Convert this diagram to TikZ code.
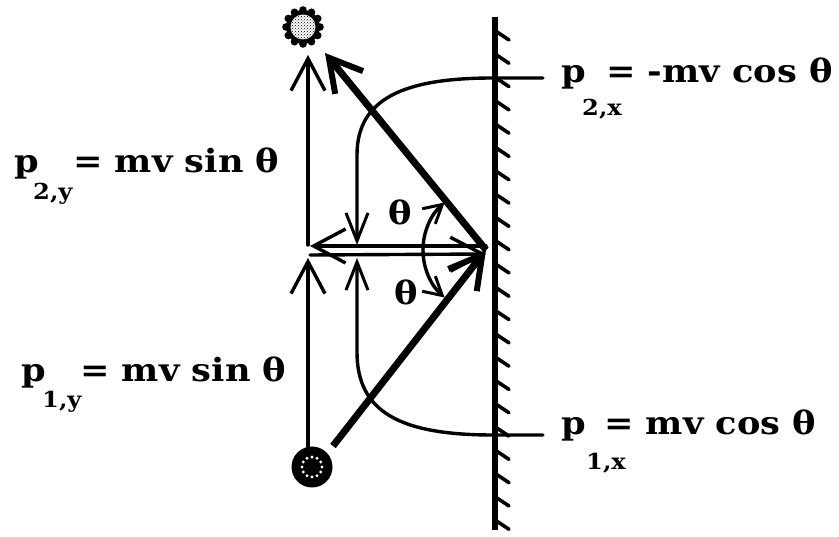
\documentclass[tikz,border=0pt]{standalone}
\usepackage{fontspec}
\setmainfont{DejaVu Serif}[FakeStretch=1.1]
\usetikzlibrary{arrows.meta,patterns}
\begin{document}
\begin{tikzpicture}[x=1pt,y=-1pt,
  thinln/.style={line width=3.4pt, line cap=round},
  thickln/.style={line width=7pt},
  wallln/.style={line width=6pt},
  hatchln/.style={line width=3.6pt, line cap=round},
  bigbarb/.style={-{Straight Barb[length=32pt,width=34pt,line width=3.4pt]}},
  thickbarb/.style={-{Straight Barb[length=32pt,width=36pt,line width=6pt]}},
  smallbarb/.style={-{Straight Barb[length=18pt,width=20pt,line width=3pt]}},
  conbarb/.style={-{Straight Barb[length=28pt,width=22pt,line width=3pt]}},
  lbl/.style={inner sep=0pt, anchor=base west, font=\fontsize{32}{36}\selectfont\bfseries},
  sublbl/.style={inner sep=0pt, anchor=base west, font=\fontsize{22}{26}\selectfont\bfseries},
  anglbl/.style={inner sep=0pt, font=\fontsize{32}{36}\selectfont\bfseries}]
\useasboundingbox (0,0) rectangle (839,537);

% wall
\coordinate (wtop) at (495,17);
\coordinate (wbot) at (495,530);
\draw[wallln] (wtop) -- (wbot);
\foreach \i in {0,...,21}
  \draw[hatchln] (497,{32+\i*23.3}) -- ++(12,8);

% key points
\coordinate (C) at (486,250);
\coordinate (Cu) at (486,246);
\coordinate (Cd) at (486,254);
\coordinate (Lu) at (310,246);
\coordinate (Ld) at (310,255);
\coordinate (vtop) at (308,55);
\coordinate (vmidU) at (308,245);
\coordinate (vmidD) at (308,258);
\coordinate (vbot) at (308,447);
\coordinate (dtop) at (325,53);
\coordinate (dbot) at (333,446);

% balls
\node[circle, minimum size=40pt, inner sep=0pt] (ball2) at (303,27) {};
\node[circle, minimum size=42pt, inner sep=0pt] (ball1) at (312,467) {};
\fill[black] (ball2.center) circle (17pt);
\foreach \a in {0,30,...,330}
  \fill[black] ([shift={(\a:17pt)}]ball2.center) circle (3.8pt);
\fill[white] (ball2.center) circle (12.5pt);
\fill[pattern=crosshatch dots] (ball2.center) circle (12.5pt);
\fill[black] (ball1.center) circle (20.5pt);
\foreach \a in {0,30,...,330}
  \fill[white] ([shift={(\a:10pt)}]ball1.center) circle (1.6pt);

% vertical components
\draw[thinln, bigbarb] (vbot) -- (vmidD);
\draw[thinln, bigbarb] (vmidU) -- (vtop);

% horizontal components
\draw[thinln, bigbarb] (Cu) -- (Lu);
\draw[thinln, bigbarb] (Ld) -- (Cd);

% trajectories
\draw[thickln, thickbarb] (dbot) -- (C);
\draw[thickln, thickbarb] (C) -- (dtop);

% angle arcs
\draw[thinln, smallbarb] ([shift={(180:63pt)}]C) arc[start angle=180, end angle=131, radius=63pt];
\draw[thinln, smallbarb] ([shift={(180:63pt)}]C) arc[start angle=180, end angle=229, radius=63pt];
\node[anglbl] (th1) at (400,212) {θ};
\node[anglbl] (th2) at (406,292) {θ};

% label connectors
\coordinate (e2x) at (543,78);
\coordinate (e1x) at (543,435);
\coordinate (a2x) at (357,245);
\coordinate (a1x) at (357,258);
\draw[thinln, conbarb] (e2x) -- (493,78) .. controls (405,78) and (357,98) .. (357,155) -- (a2x);
\draw[thinln, conbarb] (e1x) -- (493,435) .. controls (400,435) and (357,412) .. (357,352) -- (a1x);

% labels
\node[lbl] (p2y) at (14,173) {p};
\node[sublbl] (s2y) at (33,200) {2,y};
\node[lbl] (e2y) at (73,173) {= mv sin θ};

\node[lbl] (p1y) at (21,382) {p};
\node[sublbl] (s1y) at (42,408) {1,y};
\node[lbl] (e1y) at (80,382) {= mv sin θ};

\node[lbl] (p2x) at (561,83) {p};
\node[sublbl] (s2x) at (582,116) {2,x};
\node[lbl] (e2xl) at (606,83) {= -mv cos θ};

\node[lbl] (p1x) at (561,435) {p};
\node[sublbl] (s1x) at (586,470) {1,x};
\node[lbl] (e1xl) at (604,435) {= mv cos θ};
\end{tikzpicture}
\end{document}
